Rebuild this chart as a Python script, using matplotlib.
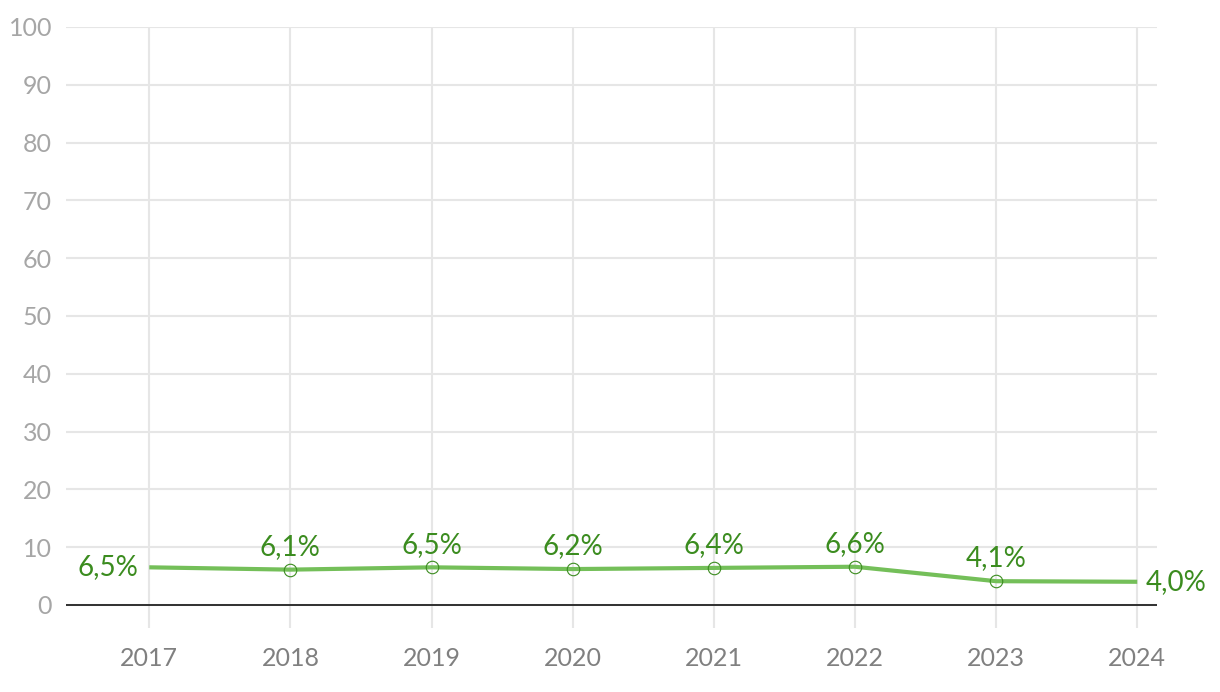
import numpy as np
import matplotlib
matplotlib.use('Agg')
import matplotlib.pyplot as plt

plt.rcParams['font.family'] = ['Lato', 'DejaVu Sans']

years = [2017, 2018, 2019, 2020, 2021, 2022, 2023, 2024]
values = [6.5, 6.1, 6.5, 6.2, 6.4, 6.6, 4.1, 4.0]
labels = ['6,5%', '6,1%', '6,5%', '6,2%', '6,4%', '6,6%', '4,1%', '4,0%']
yticks = [0, 10, 20, 30, 40, 50, 60, 70, 80, 90, 100]

LINE = '#74bf59'
TEXT = '#3b8c1f'

fig = plt.figure(figsize=(12.2, 6.92), dpi=100)
ax = fig.add_axes([66 / 1220, 1 - 628 / 692, (1157 - 66) / 1220, (628 - 27) / 692])

ax.plot(years, values, color=LINE, lw=3, solid_capstyle='butt', zorder=3)
ax.plot(years[1:-1], values[1:-1], 'o', ms=9, mfc='none', mec=TEXT, mew=0.8, zorder=4)
ax.axhline(0, color='#222222', lw=1.3, zorder=2)

for i, (x, v, s) in enumerate(zip(years, values, labels)):
    if i == 0:
        ax.annotate(s, (x, v), xytext=(-8, 0), textcoords='offset points',
                    ha='right', va='center', color=TEXT, fontsize=20)
    elif i == len(years) - 1:
        ax.annotate(s, (x, v), xytext=(6, 0), textcoords='offset points',
                    ha='left', va='center', color=TEXT, fontsize=20)
    else:
        ax.annotate(s, (x, v), xytext=(0, 7), textcoords='offset points',
                    ha='center', va='bottom', color=TEXT, fontsize=20)

ax.set_xlim(2016.41, 2024.14)
ax.set_ylim(-4, 100)
ax.set_xticks(years)
ax.set_yticks(yticks)
ax.grid(True, color='#e6e6e6', lw=1.5, zorder=0)
ax.set_axisbelow(True)
for sp in ax.spines.values():
    sp.set_visible(False)
ax.tick_params(length=0)
ax.tick_params(axis='x', labelsize=18, labelcolor='#808080', pad=14)
ax.tick_params(axis='y', labelsize=18, labelcolor='#a6a6a6', pad=10)

fig.savefig('out.png', dpi=100)
